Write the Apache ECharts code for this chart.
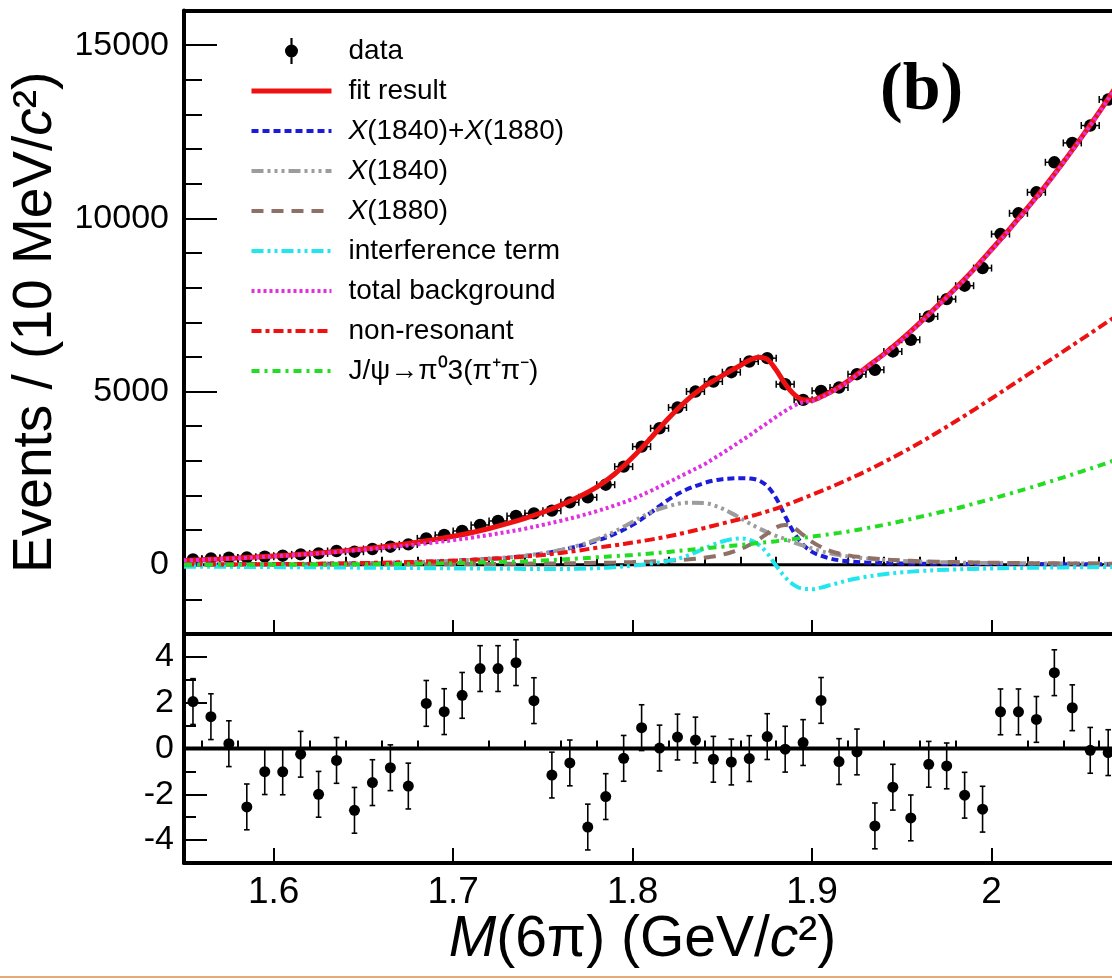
<!DOCTYPE html>
<html><head><meta charset="utf-8">
<script src="https://cdn.jsdelivr.net/npm/echarts@6/dist/echarts.min.js"></script>
<style>html,body{margin:0;padding:0;background:#fff}#chart{width:1112px;height:980px}</style>
</head><body><div id="chart"></div>
<script>
// ---------- data ----------
const binCenters = [1.555,1.565,1.575,1.585,1.595,1.605,1.615,1.625,1.635,1.645,1.655,1.665,1.675,1.685,1.695,1.705,1.715,1.725,1.735,1.745,1.755,1.765,1.775,1.785,1.795,1.805,1.815,1.825,1.835,1.845,1.855,1.865,1.875,1.885,1.895,1.905,1.915,1.925,1.935,1.945,1.955,1.965,1.975,1.985,1.995,2.005,2.015,2.025,2.035,2.045,2.055,2.065];
const eventCounts = [153,182,202,211,231,260,298,327,396,376,454,520,587,760,858,974,1147,1263,1407,1483,1561,1801,1945,2310,2832,3410,3940,4538,5000,5289,5558,5867,5963,5212,4760,5020,5116,5500,5627,6156,6494,7168,7668,8055,8564,9546,10145,10751,11618,12177,12679,13430];
const pulls = [2.05,1.39,0.21,-2.55,-1.01,-1.02,-0.25,-2.00,-0.52,-2.70,-1.49,-0.84,-1.64,1.97,1.61,2.32,3.49,3.49,3.75,2.09,-1.16,-0.63,-3.43,-2.10,-0.43,0.91,0.02,0.50,0.37,-0.47,-0.59,-0.44,0.52,-0.03,0.26,2.10,-0.57,-0.15,-3.38,-1.69,-3.03,-0.69,-0.76,-2.04,-2.65,1.60,1.60,1.27,3.31,1.78,-0.08,-0.18];

const curveMass = [1.55,1.56,1.57,1.58,1.59,1.60,1.61,1.62,1.63,1.64,1.65,1.66,1.67,1.68,1.69,1.70,1.71,1.72,1.73,1.74,1.75,1.76,1.77,1.78,1.79,1.80,1.81,1.82,1.83,1.84,1.845,1.85,1.855,1.86,1.865,1.87,1.875,1.88,1.885,1.89,1.895,1.90,1.905,1.91,1.915,1.92,1.93,1.94,1.95,1.96,1.97,1.98,1.99,2.00,2.01,2.02,2.03,2.04,2.05,2.06,2.07];
const fitCurve = [125,145,167,192,220,250,282,320,362,407,457,515,580,652,732,822,925,1045,1185,1340,1515,1720,1960,2240,2620,3100,3650,4230,4740,5150,5310,5460,5610,5750,5900,5990,5930,5620,5220,4920,4760,4750,4850,4980,5130,5300,5690,6080,6510,6980,7480,7985,8520,9100,9690,10300,10940,11620,12330,13070,13850];
const bgCurve = [122,142,163,187,213,242,273,308,345,386,430,478,530,586,646,710,780,860,945,1040,1150,1270,1400,1545,1710,1900,2130,2380,2640,2900,3060,3220,3390,3560,3730,3910,4090,4270,4440,4590,4690,4730,4830,4960,5110,5280,5670,6060,6490,6960,7460,7965,8500,9080,9670,10280,10920,11600,12310,13050,13830];
const nonResCurve = [5,7,9,11,14,18,22,27,33,40,48,58,70,84,100,118,140,165,195,235,280,340,410,490,560,640,725,820,935,1060,1125,1190,1255,1320,1390,1460,1540,1620,1715,1815,1915,2020,2125,2230,2345,2460,2700,2960,3230,3520,3825,4140,4465,4800,5140,5480,5820,6160,6505,6850,7200];
const jpsiCurve = [0,1,1,2,3,5,6,8,10,12,15,19,24,30,37,45,57,70,85,100,123,150,180,215,247,280,325,370,420,470,495,520,545,570,597,625,652,680,712,745,777,810,845,882,920,960,1050,1150,1260,1380,1500,1620,1760,1900,2050,2200,2360,2520,2690,2860,3040];
const signalCurve = [5,6,8,10,12,15,18,22,27,33,40,49,60,75,92,115,140,170,205,250,320,420,540,690,890,1150,1500,1880,2170,2360,2430,2470,2490,2500,2490,2440,2270,1920,1400,920,580,370,260,180,130,100,65,48,38,32,28,25,22,20,19,18,17,16,15,14,13];
const x1840Curve = [4,5,7,9,11,14,17,21,26,32,39,48,59,73,90,112,138,170,210,262,330,430,560,730,960,1240,1510,1690,1790,1780,1720,1620,1490,1350,1200,1060,940,830,740,640,550,470,390,330,280,240,180,140,110,90,75,64,56,50,45,41,38,35,33,31,30];
const x1880Curve = [3,3,4,4,5,5,6,7,7,8,9,10,12,13,15,17,20,23,26,30,35,40,47,55,65,78,95,118,150,200,240,290,360,450,570,720,900,1080,1150,1060,860,660,510,400,325,270,200,155,125,103,87,75,65,57,51,46,42,38,35,32,30];
const interfCurve = [-55,-58,-60,-63,-66,-69,-72,-75,-78,-82,-86,-90,-94,-98,-102,-106,-110,-114,-118,-121,-123,-122,-116,-100,-70,-25,35,110,250,470,580,670,735,760,720,590,330,-30,-360,-590,-695,-705,-660,-590,-520,-450,-350,-275,-220,-182,-155,-135,-120,-108,-98,-90,-83,-77,-72,-68,-64];

const xMajorTicks = [1.6,1.7,1.8,1.9,2.0,2.1];
const xMinorTicks = [1.56,1.58,1.62,1.64,1.66,1.68,1.72,1.74,1.76,1.78,1.82,1.84,1.86,1.88,1.92,1.94,1.96,1.98,2.02,2.04,2.06,2.08];
const yMajorTicks = [0,5000,10000,15000];
const yMinorTicks = [-1000,1000,2000,3000,4000,6000,7000,8000,9000,11000,12000,13000,14000];
const pullMajorTicks = [-4,-2,0,2,4];
const pullMinorTicks = [-3,-1,1,3];
const X_RANGE = [1.55, 2.10];
const Y_RANGE = [-2000, 16000];
const PULL_RANGE = [-5, 5];
const HALF_BIN = 0.005;
const PULL_ERR = 1;

// ---------- styles ----------
const FONT = 'Liberation Sans, Arial, Helvetica, sans-serif';
const styles = {
  fit:    {color:'#ee1111', width:5, type:'solid'},
  sig:    {color:'#1c1cd8', width:4, type:[7,4]},
  x1840:  {color:'#9c9c9c', width:4, type:[12,4,3,4,3,4,3,4]},
  x1880:  {color:'#8e7066', width:4, type:[12,8]},
  interf: {color:'#22e6ee', width:4, type:[12,4,3,4,3,4]},
  bg:     {color:'#e030e0', width:4, type:[3,3]},
  nonres: {color:'#ee1111', width:4, type:[10,4,4,4]},
  jpsi:   {color:'#22dd22', width:4, type:[8,5,3,5]}
};

function zip(xs, ys) { return xs.map((x, i) => [x, ys[i]]); }
function plainNum(v) { return String(v); }

function renderDataPoint(params, api) {
  const x = api.value(0), y = api.value(1);
  const c = api.coord([x, y]);
  const l = api.coord([x - HALF_BIN, y]);
  const r = api.coord([x + HALF_BIN, y]);
  const st = {stroke:'#000', lineWidth:1.5};
  return {type:'group', children:[
    {type:'line', shape:{x1:l[0], y1:c[1], x2:r[0], y2:c[1]}, style:st},
    {type:'line', shape:{x1:l[0], y1:c[1]-3.5, x2:l[0], y2:c[1]+3.5}, style:st},
    {type:'line', shape:{x1:r[0], y1:c[1]-3.5, x2:r[0], y2:c[1]+3.5}, style:st},
    {type:'circle', shape:{cx:c[0], cy:c[1], r:6.2}, style:{fill:'#000'}}
  ]};
}
function renderPull(params, api) {
  const x = api.value(0), y = api.value(1);
  const c = api.coord([x, y]);
  const lo = api.coord([x, y - PULL_ERR]);
  const hi = api.coord([x, y + PULL_ERR]);
  const st = {stroke:'#000', lineWidth:1.6};
  return {type:'group', children:[
    {type:'line', shape:{x1:c[0], y1:lo[1], x2:c[0], y2:hi[1]}, style:st},
    {type:'line', shape:{x1:c[0]-2.8, y1:lo[1], x2:c[0]+2.8, y2:lo[1]}, style:st},
    {type:'line', shape:{x1:c[0]-2.8, y1:hi[1], x2:c[0]+2.8, y2:hi[1]}, style:st},
    {type:'circle', shape:{cx:c[0], cy:c[1], r:5.5}, style:{fill:'#000'}}
  ]};
}

const frameLine = {show:true, onZero:false, lineStyle:{color:'#000', width:4}};
const tickStyle = {color:'#000', width:2};
function xAxisDef(grid, extra) {
  return Object.assign({type:'value', gridIndex:grid, min:X_RANGE[0], max:X_RANGE[1], position:'bottom',
    splitLine:{show:false}, axisLabel:{show:false}, axisTick:{show:false}, axisLine:{show:false}}, extra);
}
function yAxisDef(grid, range, extra) {
  return Object.assign({type:'value', gridIndex:grid, min:range[0], max:range[1], position:'left',
    splitLine:{show:false}, axisLabel:{show:false}, axisTick:{show:false}, axisLine:{show:false}}, extra);
}

function lineSeries(name, xs, ys, st) {
  return {name:name, type:'line', xAxisIndex:0, yAxisIndex:0, data:zip(xs, ys), smooth:0.35,
    symbol:'none', showSymbol:false, silent:true,
    lineStyle:{color:st.color, width:st.width, type:st.type},
    itemStyle:{color:st.color}};
}

const legendNames = ['data','fit result','X(1840)+X(1880)','X(1840)','X(1880)','interference term','total background','non-resonant','J/ψ→π⁰3(π⁺π⁻)'];
const legendStyleKeys = [null,'fit','sig','x1840','x1880','interf','bg','nonres','jpsi'];

const option = {
  backgroundColor:'#fff',
  animation:false,
  textStyle:{fontFamily:FONT},
  title:{text:'(b)', left:875, top:52, textStyle:{fontFamily:'Liberation Serif, Times New Roman, serif', fontSize:68, fontWeight:'bold', color:'#000'}},
  grid:[
    {left:184, top:10.5, width:987, height:623.5, outerBoundsMode:'none', containLabel:false},
    {left:184, top:634, width:987, height:229, outerBoundsMode:'none', containLabel:false}
  ],
  xAxis:[
    xAxisDef(0, {axisLine:frameLine, axisTick:{show:true, inside:true, length:14, customValues:xMajorTicks, lineStyle:tickStyle}}),
    xAxisDef(0, {axisTick:{show:true, inside:true, length:8, customValues:xMinorTicks, lineStyle:tickStyle}}),
    xAxisDef(0, {position:'top', axisLine:frameLine}),
    xAxisDef(1, {axisLine:frameLine, axisTick:{show:true, inside:true, length:15, customValues:xMajorTicks, lineStyle:tickStyle},
      axisLabel:{show:true, customValues:xMajorTicks, fontSize:37, margin:11, color:'#000', fontFamily:FONT, formatter:plainNum},
      name:'{i|M}(6π) (GeV/{i|c}²)', nameLocation:'middle', nameGap:47,
      nameTextStyle:{fontSize:57, color:'#000', fontFamily:FONT, padding:[0,70,0,0],
        rich:{i:{fontSize:57, fontStyle:'italic', color:'#000', fontFamily:FONT}}}}),
    xAxisDef(1, {axisTick:{show:true, inside:true, length:8, customValues:xMinorTicks, lineStyle:tickStyle}})
  ],
  yAxis:[
    yAxisDef(0, Y_RANGE, {axisLine:frameLine, axisTick:{show:true, inside:true, length:33, customValues:yMajorTicks, lineStyle:tickStyle},
      axisLabel:{show:true, customValues:yMajorTicks, fontSize:34, margin:15, color:'#000', fontFamily:FONT, formatter:plainNum},
      name:'Events / (10 MeV/{i|c}²)', nameLocation:'middle', nameGap:119, nameRotate:90,
      nameTextStyle:{fontSize:55, color:'#000', fontFamily:FONT,
        rich:{i:{fontSize:55, fontStyle:'italic', color:'#000', fontFamily:FONT}}}}),
    yAxisDef(0, Y_RANGE, {axisTick:{show:true, inside:true, length:18, customValues:yMinorTicks, lineStyle:tickStyle}}),
    yAxisDef(1, PULL_RANGE, {axisLine:frameLine, axisTick:{show:true, inside:true, length:23, customValues:pullMajorTicks, lineStyle:tickStyle},
      axisLabel:{show:true, customValues:pullMajorTicks, fontSize:34, margin:10, color:'#000', fontFamily:FONT, formatter:plainNum}}),
    yAxisDef(1, PULL_RANGE, {axisTick:{show:true, inside:true, length:12, customValues:pullMinorTicks, lineStyle:tickStyle}})
  ],
  legend:{
    orient:'vertical', left:249, top:37, padding:0, itemWidth:80, itemHeight:26, itemGap:12,
    selectedMode:false,
    itemStyle:{opacity:0},
    textStyle:{fontFamily:FONT, fontSize:28, color:'#000', padding:[0,0,0,12],
      rich:{i:{fontFamily:FONT, fontSize:28, fontStyle:'italic', color:'#000'}}},
    formatter:function(name){
      if (name === 'X(1840)+X(1880)') return '{i|X}(1840)+{i|X}(1880)';
      if (name === 'X(1840)') return '{i|X}(1840)';
      if (name === 'X(1880)') return '{i|X}(1880)';
      return name;
    },
    data: legendNames.map(function(n, i){
      const k = legendStyleKeys[i];
      if (!k) return {name:n, icon:'path://M-1 -12L1 -12L1 12L-1 12Z M6 0A6 6 0 1 1 -6 0A6 6 0 1 1 6 0Z', itemStyle:{opacity:1, color:'#000'}};
      const s = styles[k];
      return {name:n, lineStyle:{color:s.color, width:s.width, type:s.type, opacity:1}};
    })
  },
  graphic:[
    {type:'rect', left:0, top:976, shape:{width:1112, height:2}, style:{fill:'#e8a878'}, silent:true}
  ],
  series:[
    {name:'zero-top', type:'line', xAxisIndex:0, yAxisIndex:0, data:[[X_RANGE[0],0],[X_RANGE[1],0]], symbol:'none', silent:true, lineStyle:{color:'#000', width:3}},
    {name:'data', type:'custom', xAxisIndex:0, yAxisIndex:0, renderItem:renderDataPoint, itemStyle:{color:'#000'},
      encode:{x:0, y:1}, data:zip(binCenters, eventCounts), silent:true},
    lineSeries('fit result', curveMass, fitCurve, styles.fit),
    lineSeries('X(1840)+X(1880)', curveMass, signalCurve, styles.sig),
    lineSeries('X(1840)', curveMass, x1840Curve, styles.x1840),
    lineSeries('X(1880)', curveMass, x1880Curve, styles.x1880),
    lineSeries('interference term', curveMass, interfCurve, styles.interf),
    lineSeries('total background', curveMass, bgCurve, styles.bg),
    lineSeries('non-resonant', curveMass, nonResCurve, styles.nonres),
    lineSeries('J/ψ→π⁰3(π⁺π⁻)', curveMass, jpsiCurve, styles.jpsi),
    {name:'zero-pull', type:'line', xAxisIndex:3, yAxisIndex:2, data:[[X_RANGE[0],0],[X_RANGE[1],0]], symbol:'none', silent:true, lineStyle:{color:'#000', width:4}},
    {name:'pull', type:'custom', xAxisIndex:3, yAxisIndex:2, renderItem:renderPull, itemStyle:{color:'#000'},
      encode:{x:0, y:1}, data:zip(binCenters, pulls), silent:true}
  ]
};
const chart = echarts.init(document.getElementById('chart'), null, {renderer:'canvas'});
chart.setOption(option);
</script>
</body></html>
